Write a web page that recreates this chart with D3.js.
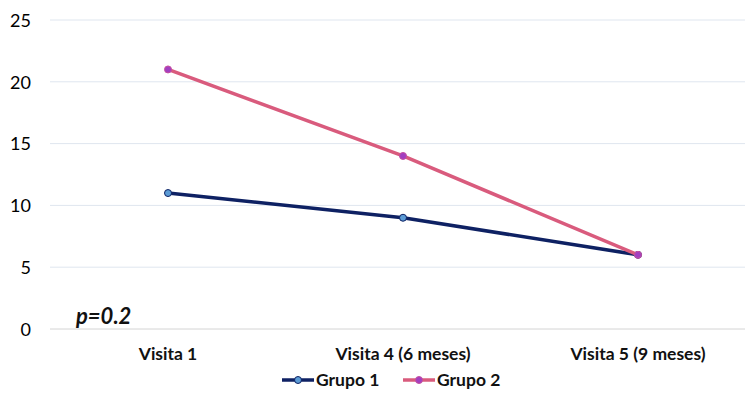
<!DOCTYPE html>
<meta charset="utf-8">
<body style="margin:0;background:#fff">
<style>
  .tick text { font-family: Lato, sans-serif; font-size: 18px; fill: #000; }
  .cat { font-family: Lato, sans-serif; font-size: 17.5px; font-weight: bold; fill: #111; }
  .legend text { font-family: Lato, sans-serif; font-size: 17.5px; font-weight: bold; fill: #111; }
</style>
<svg width="745" height="404"></svg>
<script src="https://d3js.org/d3.v7.min.js"></script>
<script>
// Data
var categories = ["Visita 1", "Visita 4 (6 meses)", "Visita 5 (9 meses)"];
var grupo1 = [11, 9, 6];
var grupo2 = [21, 14, 6];
var yTicks = [0, 5, 10, 15, 20, 25];
var seriesNames = ["Grupo 1", "Grupo 2"];

var svg = d3.select("svg");

var x = d3.scalePoint()
    .domain(categories)
    .range([168, 638]);

var y = d3.scaleLinear()
    .domain([0, 25])
    .range([329, 20]);

// grid
svg.append("g")
    .selectAll("line")
    .data(yTicks)
    .enter().append("line")
      .attr("x1", 50).attr("x2", 745)
      .attr("y1", function(d) { return y(d); })
      .attr("y2", function(d) { return y(d); })
      .attr("stroke", function(d) { return d === 0 ? "#d4d4d4" : "#dfe6ef"; })
      .attr("stroke-width", 1);

// y axis labels
var yAxis = svg.append("g")
    .attr("transform", "translate(31,0)")
    .call(d3.axisLeft(y).tickValues(yTicks).tickSize(0).tickPadding(0));
yAxis.select(".domain").remove();
yAxis.selectAll("text").attr("dy", "0.35em");

// category labels
svg.append("g")
    .selectAll("text")
    .data(categories)
    .enter().append("text")
      .attr("class", "cat")
      .attr("x", function(d) { return x(d); })
      .attr("y", 360)
      .attr("text-anchor", "middle")
      .text(function(d) { return d; });

// p value
svg.append("text")
    .attr("x", 76)
    .attr("y", 324)
    .attr("font-family", "Lato, sans-serif")
    .attr("font-size", 22)
    .attr("font-weight", "bold")
    .attr("font-style", "italic")
    .attr("fill", "#111")
    .text("p=0.2");

var styles = [
  { line: "#0e2163", fill: "#5b9bd5", stroke: "#0e2163" },
  { line: "#d95b7d", fill: "#a23fc0", stroke: "#c64fa0" }
];
var series = [grupo1, grupo2];

var line = d3.line()
    .x(function(d, i) { return x(categories[i]); })
    .y(function(d) { return y(d); });

series.forEach(function(vals, s) {
  svg.append("path")
      .datum(vals)
      .attr("fill", "none")
      .attr("stroke", styles[s].line)
      .attr("stroke-width", 3.5)
      .attr("stroke-linejoin", "round")
      .attr("d", line);
  svg.append("g")
      .selectAll("circle")
      .data(vals)
      .enter().append("circle")
        .attr("cx", function(d, i) { return x(categories[i]); })
        .attr("cy", function(d) { return y(d); })
        .attr("r", 3.5)
        .attr("fill", styles[s].fill)
        .attr("stroke", styles[s].stroke)
        .attr("stroke-width", 1);
});

// legend
var legendX = [282, 403];
var legend = svg.append("g").attr("class", "legend");
seriesNames.forEach(function(name, s) {
  var g = legend.append("g").attr("transform", "translate(" + legendX[s] + ",380)");
  g.append("line")
      .attr("x1", 0).attr("x2", 32)
      .attr("stroke", styles[s].line)
      .attr("stroke-width", 3.5);
  g.append("circle")
      .attr("cx", 16).attr("r", 3.5)
      .attr("fill", styles[s].fill)
      .attr("stroke", styles[s].stroke);
  g.append("text")
      .attr("x", 34)
      .attr("dy", "0.35em")
      .text(name);
});
</script>
</body>
